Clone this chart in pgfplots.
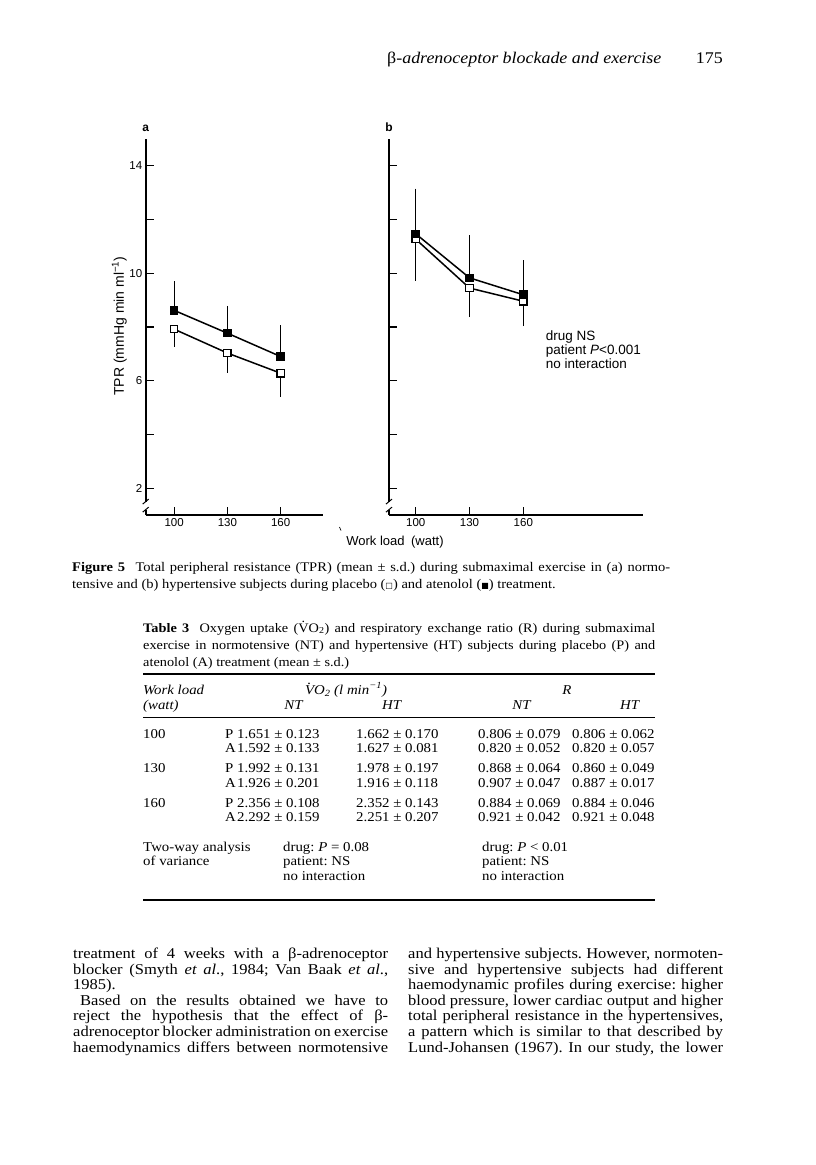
\documentclass[border=0pt]{standalone}
\usepackage{fontspec}
\usepackage{pgfplots}
\pgfplotsset{compat=1.18}
\setmainfont{Liberation Serif}[FakeStretch=1.1]
\newfontfamily\sansf{Liberation Sans}
\newfontfamily\symf{DejaVu Sans}
\frenchspacing
\newcommand{\Vdot}{\ooalign{V\cr\hidewidth\smash{\raisebox{0.72em}{.}}\hidewidth\cr}}
\newcommand{\Lj}[4]{\node[anchor=base west,inner sep=0pt] at (#1pt,-#2pt) {\frenchspacing\makebox[#3pt][s]{#4}};}
\newcommand{\Lr}[3]{\node[anchor=base west,inner sep=0pt] at (#1pt,-#2pt) {\frenchspacing #3};}
\newcommand{\Lc}[3]{\node[anchor=base,inner sep=0pt] at (#1pt,-#2pt) {#3};}
\pgfplotsset{
  panel/.style={
    anchor=south west, scale only axis, height=376pt,
    ymin=1, ymax=15,
    axis x line*=bottom, axis y line*=left,
    axis line style={-, line width=1.6pt},
    xtick={100,130,160}, ytick={2,4,...,14},
    tick align=inside, major tick length=8pt,
    tick style={line width=1.2pt, black},
    ticklabel style={font=\sansf\fontsize{11.5}{12}\selectfont},
    /pgf/number format/assume math mode=true,
    clip=false,
  },
  open/.style={black, line width=1.5pt, mark=square*, mark size=3.7pt,
    mark options={fill=white, line width=1.2pt, solid},
    error bars/.cd, y dir=minus, y explicit,
    error bar style={line width=1pt, black},
    error mark options={line width=1pt, mark size=3.5pt, black}},
  closed/.style={black, line width=1.5pt, mark=square*, mark size=3.7pt,
    mark options={fill=black, line width=1.2pt, solid},
    error bars/.cd, y dir=plus, y explicit,
    error bar style={line width=1pt, black},
    error mark options={line width=1pt, mark size=3.5pt, black}},
}
\begin{document}
\begin{tikzpicture}
\fill[white] (0pt,0pt) rectangle (816pt,-1165pt);
\path[use as bounding box] (0pt,0pt) rectangle (816pt,-1165pt);

% ---------- panel a ----------
\begin{axis}[panel, at={(145.7pt,-515pt)}, width=177.6pt,
  xmin=84, xmax=184, yticklabels={2,,6,,10,,14}]
\addplot+[open] coordinates {(100,7.92) +- (0,0.53) (130,7.03) +- (0,0.60) (160,6.28) +- (0,0.74)};
\addplot+[closed] coordinates {(100,8.62) +- (0,0.95) (130,7.77) +- (0,0.89) (160,6.90) +- (0,1.04)};
\coordinate (brA1) at (axis cs:84,1.2);
\coordinate (brA2) at (axis cs:84,1.5);
\end{axis}

% ---------- panel b ----------
\begin{axis}[panel, at={(389pt,-515pt)}, width=254.3pt,
  xmin=85.1, xmax=226.9, yticklabels={}]
\addplot+[open] coordinates {(100,11.27) +- (0,1.42) (130,9.45) +- (0,0.95) (160,8.96) +- (0,0.80)};
\addplot+[closed] coordinates {(100,11.47) +- (0,1.55) (130,9.83) +- (0,1.46) (160,9.20) +- (0,1.15)};
\coordinate (brB1) at (axis cs:85.1,1.2);
\coordinate (brB2) at (axis cs:85.1,1.5);
\end{axis}

% axis breaks
\foreach \a/\b in {brA1/brA2, brB1/brB2}{
  \fill[white] ([xshift=-2pt]\a) rectangle ([xshift=2pt]\b);
  \draw[line width=1pt] ([xshift=-3pt,yshift=-2.5pt]\a) -- ([xshift=3pt,yshift=2.5pt]\a);
  \draw[line width=1pt] ([xshift=-3pt,yshift=-2.5pt]\b) -- ([xshift=3pt,yshift=2.5pt]\b);
}

% chart texts
\node[font=\sansf\bfseries\fontsize{12}{12}\selectfont] at (145.7pt,-128pt) {a};
\node[font=\sansf\bfseries\fontsize{12}{12}\selectfont] at (389pt,-127pt) {b};
\node[rotate=90, font=\sansf\fontsize{14}{14}\selectfont] at (119.3pt,-326pt) {TPR (mmHg min ml\textsuperscript{−1})};
\node[font=\sansf\fontsize{13}{13}\selectfont] at (395pt,-542pt) {Work load\enspace(watt)};
\draw[line width=0.7pt] (339.5pt,-527pt) -- (341pt,-530.5pt);
\node[anchor=north west, align=left, inner sep=0pt, font=\sansf\fontsize{13.5}{14}\selectfont] at (545.7pt,-331pt) {drug NS\\patient \textit{P}<0.001\\no interaction};

% ---------- running head ----------
\begin{scope}[font=\fontsize{16.3}{19}\selectfont]
\Lr{387}{63}{{\upshape β}\itshape-adrenoceptor blockade and exercise}
\node[anchor=base east,inner sep=0pt] at (723pt,-63pt) {175};
\end{scope}

% ---------- figure caption ----------
\begin{scope}[font=\fontsize{13.2}{15}\selectfont]
\Lj{72}{571}{598}{\textbf{Figure 5}\hspace*{0.8em}Total peripheral resistance (TPR) (mean ± s.d.) during submaximal exercise in (a) normo-}
\Lr{72}{588}{tensive and (b) hypertensive subjects during placebo ({\symf\fontsize{8}{8}\selectfont □}) and atenolol ({\symf\fontsize{8}{8}\selectfont ■}) treatment.}
\end{scope}

% ---------- table 3 ----------
\begin{scope}[font=\fontsize{13}{15}\selectfont]
\Lj{143}{632}{512}{\textbf{Table 3}\hspace*{0.8em}Oxygen uptake (\Vdot O\textsubscript{2}) and respiratory exchange ratio (R) during submaximal}
\Lj{143}{649}{512}{exercise in normotensive (NT) and hypertensive (HT) subjects during placebo (P) and}
\Lr{143}{666}{atenolol (A) treatment (mean ± s.d.)}
\end{scope}
\draw[line width=1.4pt] (143pt,-674pt) -- (655pt,-674pt);
\draw[line width=0.8pt] (143pt,-717.5pt) -- (655pt,-717.5pt);
\draw[line width=1.4pt] (143pt,-900pt) -- (655pt,-900pt);

\begin{scope}[font=\fontsize{13.5}{15}\selectfont]
\Lr{143}{694}{\textit{Work load}}
\Lr{143}{709}{\textit{(watt)}}
\Lc{346}{694}{\textit{\Vdot O\textsubscript{2} (l min\textsuperscript{−1})}}
\Lc{294}{709}{\textit{NT}}
\Lc{392}{709}{\textit{HT}}
\Lc{567}{694}{\textit{R}}
\Lc{522}{709}{\textit{NT}}
\Lc{630}{709}{\textit{HT}}

\Lr{143}{738.4}{100}
\Lr{225}{738.4}{P}\Lr{237}{738.4}{1.651 ± 0.123}\Lr{356}{738.4}{1.662 ± 0.170}\Lr{478}{738.4}{0.806 ± 0.079}\Lr{572}{738.4}{0.806 ± 0.062}
\Lr{225}{752.6}{A}\Lr{237}{752.6}{1.592 ± 0.133}\Lr{356}{752.6}{1.627 ± 0.081}\Lr{478}{752.6}{0.820 ± 0.052}\Lr{572}{752.6}{0.820 ± 0.057}
\Lr{143}{772.8}{130}
\Lr{225}{772.8}{P}\Lr{237}{772.8}{1.992 ± 0.131}\Lr{356}{772.8}{1.978 ± 0.197}\Lr{478}{772.8}{0.868 ± 0.064}\Lr{572}{772.8}{0.860 ± 0.049}
\Lr{225}{787.4}{A}\Lr{237}{787.4}{1.926 ± 0.201}\Lr{356}{787.4}{1.916 ± 0.118}\Lr{478}{787.4}{0.907 ± 0.047}\Lr{572}{787.4}{0.887 ± 0.017}
\Lr{143}{807.7}{160}
\Lr{225}{807.7}{P}\Lr{237}{807.7}{2.356 ± 0.108}\Lr{356}{807.7}{2.352 ± 0.143}\Lr{478}{807.7}{0.884 ± 0.069}\Lr{572}{807.7}{0.884 ± 0.046}
\Lr{225}{821.9}{A}\Lr{237}{821.9}{2.292 ± 0.159}\Lr{356}{821.9}{2.251 ± 0.207}\Lr{478}{821.9}{0.921 ± 0.042}\Lr{572}{821.9}{0.921 ± 0.048}

\Lr{143}{851.6}{Two-way analysis}
\Lr{143}{865.8}{of variance}
\Lr{283}{851.6}{drug: \textit{P} = 0.08}
\Lr{283}{865.8}{patient: NS}
\Lr{283}{880.3}{no interaction}
\Lr{482}{851.6}{drug: \textit{P} < 0.01}
\Lr{482}{865.8}{patient: NS}
\Lr{482}{880.3}{no interaction}
\end{scope}

% ---------- body text ----------
\begin{scope}[font=\fontsize{15}{16}\selectfont]
\Lj{73}{958.5}{315}{treatment of 4 weeks with a β-adrenoceptor}
\Lj{73}{974.1}{315}{blocker (Smyth \textit{et al}., 1984; Van Baak \textit{et al}.,}
\Lr{73}{989.7}{1985).}
\Lj{73}{1005.3}{315}{\hspace*{7pt}Based on the results obtained we have to}
\Lj{73}{1020.9}{315}{reject the hypothesis that the effect of β-}
\Lj{73}{1036.5}{315}{adrenoceptor blocker administration on exercise}
\Lj{73}{1052.1}{315}{haemodynamics differs between normotensive}

\Lj{408}{958.5}{315}{and hypertensive subjects. However, normoten-}
\Lj{408}{974.1}{315}{sive and hypertensive subjects had different}
\Lj{408}{989.7}{315}{haemodynamic profiles during exercise: higher}
\Lj{408}{1005.3}{315}{blood pressure, lower cardiac output and higher}
\Lj{408}{1020.9}{315}{total peripheral resistance in the hypertensives,}
\Lj{408}{1036.5}{315}{a pattern which is similar to that described by}
\Lj{408}{1052.1}{315}{Lund-Johansen (1967). In our study, the lower}
\end{scope}
\end{tikzpicture}
\end{document}
